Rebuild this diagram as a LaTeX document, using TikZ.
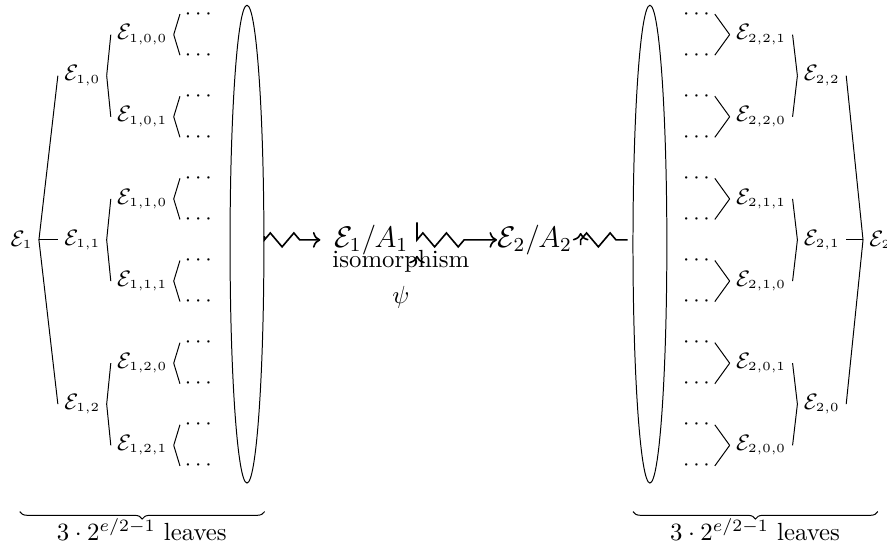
\documentclass[tikz,border=0pt]{standalone}
\usetikzlibrary{positioning,arrows.meta,calc,shapes.geometric,decorations.pathmorphing,decorations.pathreplacing}
\newcommand{\Esub}[1]{\ensuremath{\mathcal{E}_{\scriptscriptstyle #1}}}

\begin{document}
\begin{tikzpicture}[
  lab/.style={font=\small,anchor=west,inner xsep=2.4pt},
  dots/.style={font=\small,inner sep=1.8pt},
  squig/.style={line width=0.65pt,decorate,decoration={zigzag,segment length=9.5pt,amplitude=2.8pt,post length=2mm}},
  leafset/.style={ellipse,draw,minimum width=0.48cm,minimum height=6.77cm,inner sep=0pt},
  leafbrace/.style={decorate,decoration={brace,mirror,amplitude=3pt}}
]
  \useasboundingbox (0,3.40) rectangle (12.57,-4.46);
  % left tree (root, level 1, level 2, leaves)
  \node[lab] (e1) at (0.06,0) {\Esub{1}};
  \foreach \i/\lab in {0/{1,0},1/{1,1},2/{1,2}}
    \node[lab] (e1\i) at (0.82,{2.327-2.327*\i}) {\Esub{\lab}};
  \foreach \j/\lab in {0/{1,0,0},1/{1,0,1},2/{1,1,0},3/{1,1,1},4/{1,2,0},5/{1,2,1}}
    \node[lab] (l\j) at (1.57,{2.909-1.164*\j}) {\Esub{\lab}};
  \foreach \k in {0,...,11}
    \node[dots] (dl\k) at (2.81,{3.2-0.582*\k}) {$\cdots$};
  \foreach \i in {0,1,2} \draw (e1.east) -- (e1\i.west);
  \foreach \j in {0,...,5} {\pgfmathtruncatemacro\pj{\j/2} \draw (e1\pj.east) -- (l\j.west);}
  \foreach \k in {0,...,11} {\pgfmathtruncatemacro\pj{\k/2} \draw (l\pj.east) -- (dl\k.west);}
  \node[leafset] (elL) at (3.50,-0.06) {};
  % quotients and isomorphism
  \node[font=\large] (q1) at (5.26,0) {$\mathcal{E}_1/A_1$};
  \node[font=\large] (q2) at (7.58,0) {$\mathcal{E}_2/A_2$};
  \node (iso) at (5.68,-0.31) {isomorphism};
  \node (psi) at (5.68,-0.81) {$\psi$};
  % right tree (leaves, level 2, level 1, root)
  \node[leafset] (elR) at (9.21,-0.06) {};
  \foreach \k in {0,...,11}
    \node[dots] (dr\k) at (9.87,{3.2-0.582*\k}) {$\cdots$};
  \foreach \j/\lab in {0/{2,2,1},1/{2,2,0},2/{2,1,1},3/{2,1,0},4/{2,0,1},5/{2,0,0}}
    \node[lab] (r\j) at (10.34,{2.909-1.164*\j}) {\Esub{\lab}};
  \foreach \i/\lab in {0/{2,2},1/{2,1},2/{2,0}}
    \node[lab] (e2\i) at (11.30,{2.327-2.327*\i}) {\Esub{\lab}};
  \node[lab] (e2) at (12.23,0) {\Esub{2}};
  \foreach \k in {0,...,11} {\pgfmathtruncatemacro\pj{\k/2} \draw (dr\k.east) -- (r\pj.west);}
  \foreach \j in {0,...,5} {\pgfmathtruncatemacro\pj{\j/2} \draw (r\j.east) -- (e2\pj.west);}
  \foreach \i in {0,1,2} \draw (e2\i.east) -- (e2.west);
  % squiggly maps
  \draw[->,squig,shorten <=1.5pt,shorten >=2pt] (elL.east |- q1.west) -- (q1.west);
  \draw[<->,squig,shorten <=6.4pt,shorten >=-3.2pt] (q1.east) -- (q2.west);
  \draw[<-,squig,shorten <=-2.8pt,shorten >=2pt] (q2.east) -- (elR.west |- q2.east);
  % leaf counts
  \draw[leafbrace] (0.28,-3.85) -- (3.75,-3.85);
  \node (nl) at (2.01,-4.11) {$3\cdot 2^{e/2-1}$ leaves};
  \draw[leafbrace] (8.97,-3.85) -- (12.44,-3.85);
  \node (nr) at (10.70,-4.11) {$3\cdot 2^{e/2-1}$ leaves};
\end{tikzpicture}
\end{document}
